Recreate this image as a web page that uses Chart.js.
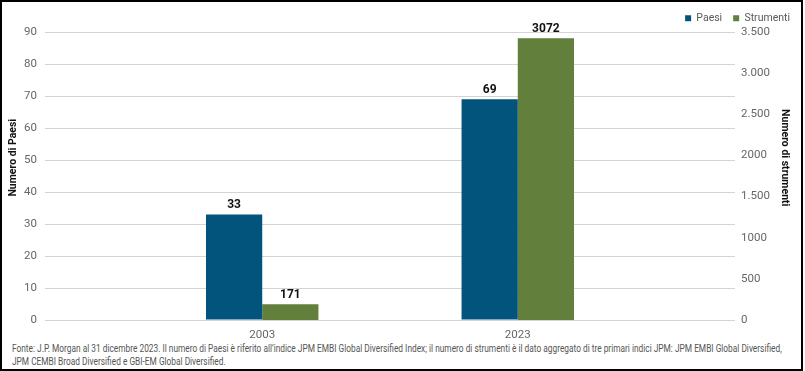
<!DOCTYPE html>
<html>
<head>
<meta charset="utf-8">
<script src="https://cdn.jsdelivr.net/npm/chart.js@4"></script>
<style>
  html, body { margin: 0; padding: 0; background: #fff; }
  #frame {
    position: relative;
    width: 803px;
    height: 371px;
    border: 2px solid #000;
    box-sizing: border-box;
    font-family: 'Roboto', sans-serif;
  }
  #chartBox { position: absolute; left: 0; top: 0; width: 799px; height: 340px; }
  #note {
    position: absolute;
    left: 10px;
    top: 340px;
    font-size: 11px;
    line-height: 13px;
    color: #555;
    white-space: nowrap;
    transform: scaleX(0.757);
    transform-origin: left top;
  }
</style>
</head>
<body>
<div id="frame">
  <div id="chartBox"><canvas id="fundChart"></canvas></div>
  <div id="note">Fonte: J.P. Morgan al 31 dicembre 2023. Il numero di Paesi è riferito all’indice JPM EMBI Global Diversified Index; il numero di strumenti è il dato aggregato di tre primari indici JPM: JPM EMBI Global Diversified,<br>JPM CEMBI Broad Diversified e GBI-EM Global Diversified.</div>
</div>
<script>
const categories = ['2003', '2023'];
const paesi = [33, 69];
const strumenti = [171, 3072];
const rightTickLabels = ['0', '500', '1000', '1.500', '2000', '2.500', '3.000', '3.500'];

const FONT = "'Roboto', sans-serif";
const NB = '\u00A0';

// numbers written above each bar
const barLabels = {
    id: 'barLabels',
    afterDatasetsDraw(chart) {
        const ctx = chart.ctx;
        ctx.save();
        ctx.font = 'bold 12px ' + FONT;
        ctx.fillStyle = '#111';
        ctx.textAlign = 'center';
        ctx.textBaseline = 'bottom';
        chart.data.datasets.forEach((ds, i) => {
            chart.getDatasetMeta(i).data.forEach((bar, j) => {
                ctx.fillText(String(ds.data[j].y), bar.x, bar.y - 3);
            });
        });
        ctx.restore();
    }
};

const legendHeight = {
    id: 'legendHeight',
    beforeInit(chart) {
        const fit = chart.legend.fit;
        chart.legend.fit = function () {
            fit.bind(chart.legend)();
            this.height = 30;
        };
    }
};

const ctx = document.getElementById('fundChart').getContext('2d');
new Chart(ctx, {
    type: 'bar',
    data: {
        datasets: [{
            label: 'Paesi',
            data: paesi.map((v, i) => ({ x: i, y: v })),
            backgroundColor: '#02547c',
            yAxisID: 'y'
        }, {
            label: 'Strumenti',
            data: strumenti.map((v, i) => ({ x: i, y: v })),
            backgroundColor: '#62803c',
            yAxisID: 'y2'
        }]
    },
    options: {
        responsive: true,
        maintainAspectRatio: false,
        animation: false,
        datasets: { bar: { categoryPercentage: 0.44, barPercentage: 1.0 } },
        layout: { padding: 0 },
        plugins: {
            legend: {
                position: 'top',
                align: 'end',
                labels: {
                    boxWidth: 6,
                    boxHeight: 6,
                    padding: 11,
                    color: '#595959',
                    font: { family: FONT, size: 10.5 }
                }
            },
            tooltip: { enabled: false }
        },
        scales: {
            x: {
                type: 'linear',
                offset: false,
                min: -0.85,
                max: 1.85,
                grid: { display: false },
                border: { display: false },
                afterBuildTicks(scale) {
                    scale.ticks = categories.map((c, i) => ({ value: i }));
                },
                afterFit(scale) { scale.height = 22; },
                ticks: {
                    padding: 0,
                    color: '#666',
                    font: { family: FONT, size: 11.5 },
                    callback: (v) => categories[v]
                }
            },
            y: {
                position: 'left',
                min: 0,
                max: 90,
                afterFit(scale) { scale.width = 43; },
                grid: { color: '#d4d4d4', drawTicks: false },
                border: { display: false },
                ticks: {
                    stepSize: 10,
                    padding: 8,
                    color: '#666',
                    font: { family: FONT, size: 11.5 }
                },
                title: {
                    display: true,
                    text: NB.repeat(14) + 'Numero di Paesi',
                    color: '#111',
                    padding: { top: 5, bottom: 0 },
                    font: { family: FONT, size: 10.5, weight: 'bold' }
                }
            },
            y1: {
                position: 'right',
                min: 0,
                max: 3500,
                afterFit(scale) { scale.width = 66; },
                grid: { display: false, drawTicks: false },
                border: { display: false },
                ticks: {
                    stepSize: 500,
                    padding: 6,
                    color: '#666',
                    font: { family: FONT, size: 11.5 }
                    ,
                    callback: (v) => rightTickLabels[v / 500]
                },
                title: {
                    display: true,
                    text: 'Numero di strumenti' + NB.repeat(14),
                    color: '#111',
                    padding: { top: 10, bottom: 0 },
                    font: { family: FONT, size: 10.5, weight: 'bold' }
                }
            },
            y2: {
                display: false,
                min: 0,
                max: 3140
            }
        }
    },
    plugins: [barLabels, legendHeight]
});
</script>
</body>
</html>
